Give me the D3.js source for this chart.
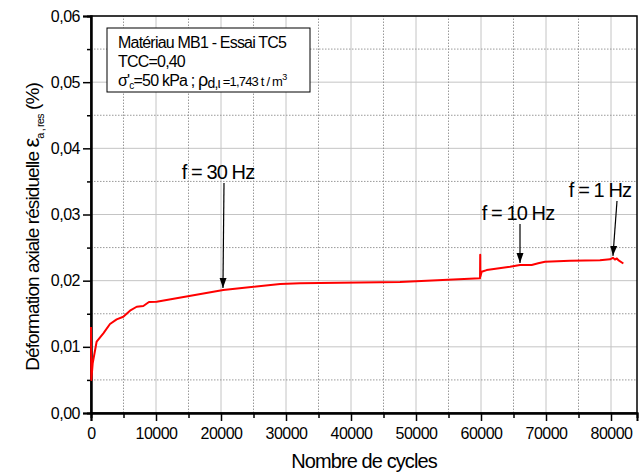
<!DOCTYPE html>
<html>
<head>
<meta charset="utf-8">
<script src="https://cdn.jsdelivr.net/npm/d3@7"></script>
<style>
  body { margin: 0; background: #fff; }
  svg { display: block; font-family: "Liberation Sans", Arial, sans-serif; }
  .tick text { font-size: 16px; letter-spacing: -0.5px; fill: #000; }
  .lbl { font-size: 19px; letter-spacing: -0.9px; fill: #000; }
</style>
</head>
<body>
<div id="chart"></div>
<script>
// curve
var cycles = [0, 50, 260, 870, 1900, 2920, 3950, 4970, 6000, 7030, 8050, 8920, 10100,
  20350, 29100, 32150, 47540, 59850, 59880, 59900, 60100, 60870, 64460, 66000, 67800,
  68800, 69850, 73700, 78300, 79850, 80300, 80600, 80900, 81120, 81900];
var strain = [0.0130, 0.0050, 0.0075, 0.0108, 0.01204, 0.01345, 0.01416, 0.01455, 0.01546,
  0.01606, 0.01617, 0.01677, 0.01682, 0.01859, 0.0195, 0.0196, 0.0198, 0.02035, 0.0239,
  0.0206, 0.02135, 0.0216, 0.0221, 0.02237, 0.02237, 0.02262, 0.02287, 0.02302, 0.0231,
  0.02322, 0.02345, 0.0232, 0.02335, 0.0231, 0.0226];

var xTicks = [0, 10000, 20000, 30000, 40000, 50000, 60000, 70000, 80000];
var yTicks = [0, 0.01, 0.02, 0.03, 0.04, 0.05, 0.06];

// annotations: label, cycle pointed at, value pointed at
var notes = [
  {text: "f = 30 Hz", x: 20300, y: 0.0186, tx: 218, ty: 179, ax0: 224, ay0: 183},
  {text: "f = 10 Hz", x: 66000, y: 0.02237, tx: 518, ty: 220, ax0: 520, ay0: 224},
  {text: "f = 1 Hz", x: 80300, y: 0.02345, tx: 600, ty: 197, ax0: 617, ay0: 201}
];

var width = 644, height = 472;
var margin = {top: 16, right: 7, bottom: 59, left: 91};

var svg = d3.select("#chart").append("svg")
    .attr("width", width)
    .attr("height", height);

var x = d3.scaleLinear().domain([0, 84000]).range([margin.left, width - margin.right]);
var y = d3.scaleLinear().domain([0, 0.06]).range([height - margin.bottom, margin.top]);

var loc = d3.formatLocale({decimal: ",", thousands: "", grouping: [3], currency: ["", ""]});
var fy = loc.format(".2f");

var minorX = d3.range(5000, 84000, 10000);
var minorY = d3.range(0.005, 0.06, 0.01);

// grid
var grid = svg.append("g");
grid.selectAll(".gx").data(xTicks.slice(1)).enter().append("line")
    .attr("x1", x).attr("x2", x).attr("y1", y(0)).attr("y2", y(0.06))
    .attr("stroke", "#c4c4c4").attr("stroke-width", 1);
grid.selectAll(".gy").data(yTicks.slice(1)).enter().append("line")
    .attr("x1", x(0)).attr("x2", x(84000)).attr("y1", y).attr("y2", y)
    .attr("stroke", "#c4c4c4").attr("stroke-width", 1);
grid.selectAll(".mx").data(minorX).enter().append("line")
    .attr("x1", x).attr("x2", x).attr("y1", y(0)).attr("y2", y(0.06))
    .attr("stroke", "#999").attr("stroke-width", 1).attr("stroke-dasharray", "1.5,1.5");
grid.selectAll(".my").data(minorY).enter().append("line")
    .attr("x1", x(0)).attr("x2", x(84000)).attr("y1", y).attr("y2", y)
    .attr("stroke", "#999").attr("stroke-width", 1).attr("stroke-dasharray", "1.5,1.5");

// frame
svg.append("rect")
    .attr("x", x(0)).attr("y", y(0.06))
    .attr("width", x(84000) - x(0)).attr("height", y(0) - y(0.06))
    .attr("fill", "none").attr("stroke", "#000").attr("stroke-width", 1.5);

// axes
var xAxis = svg.append("g")
    .attr("transform", "translate(0," + y(0) + ")")
    .call(d3.axisBottom(x).tickValues(xTicks).tickFormat(d3.format("d")).tickSize(8).tickPadding(5));
xAxis.selectAll(".tick text").attr("dy", "0.8em");
svg.append("g")
    .attr("transform", "translate(0," + y(0) + ")")
    .call(d3.axisBottom(x).tickValues(minorX).tickFormat("").tickSize(5));

svg.append("g")
    .attr("transform", "translate(" + x(0) + ",0)")
    .call(d3.axisLeft(y).tickValues(yTicks).tickFormat(fy).tickSize(8).tickPadding(3));
svg.append("g")
    .attr("transform", "translate(" + x(0) + ",0)")
    .call(d3.axisLeft(y).tickValues(minorY).tickFormat("").tickSize(4));

svg.selectAll(".domain").attr("stroke", "#000").attr("stroke-width", 2);
svg.selectAll(".tick line").attr("stroke", "#000").attr("stroke-width", 1.5);

// curve
var pts = cycles.map(function(c, i) { return [c, strain[i]]; });
var line = d3.line()
    .x(function(d) { return x(d[0]); })
    .y(function(d) { return y(d[1]); });
svg.append("path")
    .datum(pts)
    .attr("d", line)
    .attr("fill", "none")
    .attr("stroke", "#ff0000")
    .attr("stroke-width", 2)
    .attr("stroke-linejoin", "round");

// annotations
svg.append("defs").append("marker")
    .attr("id", "head")
    .attr("viewBox", "0 0 10 10")
    .attr("refX", 10).attr("refY", 5)
    .attr("markerWidth", 10).attr("markerHeight", 10)
    .attr("markerUnits", "userSpaceOnUse")
    .attr("orient", "auto")
  .append("path")
    .attr("d", "M0,1.5 L10,5 L0,8.5 Z")
    .attr("fill", "#000");

notes.forEach(function(n) {
  svg.append("text").attr("class", "lbl")
      .attr("x", n.tx).attr("y", n.ty)
      .attr("text-anchor", "middle")
      .style("font-size", "20px")
      .text(n.text);
  svg.append("line")
      .attr("x1", n.ax0).attr("y1", n.ay0)
      .attr("x2", x(n.x)).attr("y2", y(n.y) - 2)
      .attr("stroke", "#000").attr("stroke-width", 1.2)
      .attr("marker-end", "url(#head)");
});

// legend box
svg.append("rect")
    .attr("x", 107).attr("y", 28).attr("width", 203).attr("height", 64)
    .attr("fill", "#fff").attr("stroke", "#000").attr("stroke-width", 1);
var lg = svg.append("g").style("font-size", "16px").style("letter-spacing", "-0.8px");
lg.append("text").attr("x", 118).attr("y", 48).text("Matériau MB1 - Essai TC5");
lg.append("text").attr("x", 118).attr("y", 67).text("TCC=0,40");
var t3 = lg.append("text").attr("x", 118).attr("y", 86);
t3.append("tspan").text("σ'");
t3.append("tspan").attr("dy", 3).style("font-size", "10px").text("c");
t3.append("tspan").attr("dy", -3).text("=50 kPa ;  ");
t3.append("tspan").style("font-size", "18px").text("ρ");
t3.append("tspan").attr("dy", 2).style("font-size", "14px").text("d,ι");
t3.append("tspan").attr("dy", -2).style("font-size", "13px").text(" =1,743 t / m");
t3.append("tspan").attr("dy", -6).style("font-size", "9px").text("3");

// axis titles
svg.append("text").attr("class", "lbl")
    .attr("x", (x(0) + x(84000)) / 2).attr("y", 468)
    .attr("text-anchor", "middle")
    .style("font-size", "20px")
    .text("Nombre de cycles");

var yt = svg.append("text").attr("class", "lbl")
    .attr("transform", "translate(39," + 227 + ") rotate(-90)")
    .attr("text-anchor", "middle");
yt.append("tspan").text("Déformation axiale résiduelle ");
yt.append("tspan").style("font-size", "22px").text("ε");
yt.append("tspan").attr("dy", 5).style("font-size", "11px").text("a , res");
yt.append("tspan").attr("dy", -5).text("  (%)");
</script>
</body>
</html>
